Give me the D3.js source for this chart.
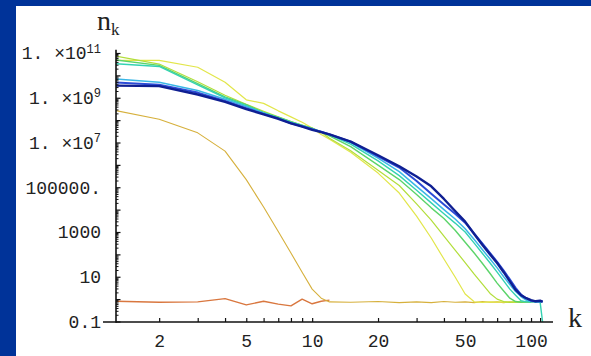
<!DOCTYPE html>
<html><head><meta charset="utf-8">
<script src="https://cdn.jsdelivr.net/npm/d3@7"></script>
<style>html,body{margin:0;padding:0;background:#003399;overflow:hidden}</style>
</head><body>
<svg id="chart" width="591" height="356"></svg>
<script>
// cluster size k (shared grid)
const kGrid = [1,2,3,4,5,6,7,8,9,10,11,12,15,20,25,30,35,40,45,50,55,60,65,70,75,80,85,90,95,100,105,110,113];

// n_k for each curve (null = not drawn)
const orangeSeries = [0.85,0.72,0.75,1.05,0.55,0.8,0.6,0.5,1.0,0.62,0.8,0.9,
  null,null,null,null,null,null,null,null,null,null,null,null,null,null,null,null,null,null,null,null,null];
const darkYellowSeries = [4.2e8,1.1e8,2.7e7,4.1e6,2.2e5,1.3e4,1.05e3,115,16,2.8,1.1,0.75,
  0.72,0.78,0.7,0.75,0.7,0.78,0.72,0.75,0.7,0.78,0.72,0.75,0.7,0.75,0.72,0.75,0.73,0.75,0.72,null,null];
const yellowSeries = [4.7e10,4.7e10,2.3e10,4.9e9,8.1e8,5.6e8,2.6e8,1.4e8,8.1e7,4.4e7,2.3e7,1.4e7,
  3.7e6,4.3e5,5.5e4,5.1e3,540,62,9.8,1.7,0.76,0.72,0.76,0.73,0.75,0.72,0.75,0.74,null,null,null,null,null];
const yellowGreenSeries = [1.1e11,3.2e10,5.2e9,1.3e9,5.1e8,2.5e8,1.4e8,8.7e7,6.0e7,4.4e7,2.9e7,1.55e7,
  4.3e6,5.8e5,1.2e5,1.8e4,3.4e3,660,155,43,13,4.7,1.8,1.0,0.78,0.72,0.76,0.74,0.75,null,null,null,null];
const greenSeries = [6.5e10,2.8e10,4.3e9,1.1e9,4.9e8,2.2e8,1.35e8,8.5e7,5.8e7,4.4e7,2.9e7,2.0e7,
  6.5e6,9.8e5,2.2e5,4.7e4,1.2e4,4.0e3,1.2e3,350,115,39,14,5.2,2.3,1.1,0.78,0.72,0.75,0.73,null,null,null];
const tealSeries = [3.8e10,2.5e10,3.8e9,1.0e9,4.4e8,2.1e8,1.3e8,8.1e7,5.8e7,4.2e7,3.0e7,2.2e7,
  8.4e6,1.5e6,3.3e5,7.4e4,2.0e4,6.6e3,2.5e3,1.0e3,320,110,41,16,6.5,2.8,1.5,0.85,0.75,0.78,0.74,0.76,0.09];
const cyanSeries = [8.1e9,4.9e9,2.1e9,8.5e8,4.0e8,2.1e8,1.2e8,7.6e7,5.5e7,3.9e7,3.0e7,2.2e7,
  1.0e7,2.0e6,5.0e5,1.1e5,3.1e4,1.0e4,3.8e3,1.4e3,460,160,62,25,10,4.5,2.2,1.3,0.9,0.78,0.75,0.77,0.76];
const blueSeries = [5.5e9,3.8e9,1.7e9,7.2e8,3.4e8,1.9e8,1.2e8,7.2e7,5.3e7,3.9e7,3.0e7,2.3e7,
  1.1e7,2.4e6,7.6e5,1.9e5,5.1e4,1.7e4,6.6e3,2.6e3,850,300,115,46,19,7.6,3.2,1.6,1.1,0.85,0.8,0.8,0.8];
const navySeries = [3.6e9,3.3e9,1.4e9,6.6e8,3.1e8,1.8e8,1.15e8,7.2e7,5.1e7,3.7e7,2.9e7,2.3e7,
  1.1e7,2.7e6,8.7e5,3.0e5,1.1e5,3.0e4,8.7e3,2.9e3,810,260,100,41,16,6.2,2.6,1.5,1.1,0.9,0.8,0.85,0.75];

// ticks
const xTicks = [2,3,4,5,6,7,8,9,10,20,30,40,50,60,70,80,90,100,110];
const xTickLabels = [2,5,10,20,50,100];
const yLabelTicks = [0.1,10,1000,1e5,1e7,1e9,1e11];
const yLabelBase = ["0.1","10","1000","100000.","1. \u00d710","1. \u00d710","1. \u00d710"];
const yLabelExp = ["","","","","7","9","11"];

const seriesList = [orangeSeries,darkYellowSeries,yellowSeries,yellowGreenSeries,greenSeries,tealSeries,cyanSeries,blueSeries,navySeries];
const seriesColors = ["#d9773f","#d6b03c","#e2e64a","#b2de3a","#5cd46a","#34d2b2","#3ab6e6","#2c4cd6","#0f1f92"];
const seriesWidths = [1.4,1.1,1.2,1.2,1.4,1.4,1.5,2,2.4];

const W = 591, H = 356;
const svg = d3.select("#chart");
svg.append("rect").attr("width",W).attr("height",H).attr("fill","#003399");
svg.append("rect").attr("x",16).attr("y",6).attr("width",W-16).attr("height",H-6).attr("fill","#ffffff");

const x = d3.scaleLog().domain([1.27,126]).range([116,553]);
const y = d3.scaleLog().domain([0.1,1e11]).range([321.5,53]);

svg.append("clipPath").attr("id","plotclip").append("rect")
  .attr("x",x(1.27)).attr("y",40).attr("width",x(126)-x(1.27)).attr("height",322-40);

const line = d3.line().defined(d => d.v != null).x(d => x(d.k)).y(d => y(d.v));
const plot = svg.append("g").attr("clip-path","url(#plotclip)");
seriesList.forEach((s,i) => {
  const pts = kGrid.map((k,j) => ({k:k, v:s[j]}));
  plot.append("path").attr("d",line(pts)).attr("fill","none")
    .attr("stroke",seriesColors[i]).attr("stroke-width",seriesWidths[i])
    .attr("stroke-linejoin","round");
});

const monoFont = "'Liberation Mono','DejaVu Sans Mono',monospace";

// x axis
const xAxisG = svg.append("g").attr("transform","translate(0,322)")
  .call(d3.axisBottom(x).tickValues(xTicks).tickSize(-4).tickSizeOuter(0).tickPadding(12)
    .tickFormat(d => xTickLabels.includes(d) ? String(d) : ""));
xAxisG.select(".domain").remove();
xAxisG.selectAll(".tick line").attr("stroke","#111").attr("stroke-width",1.2);
xAxisG.selectAll("text").attr("font-family",monoFont).attr("font-size",18).attr("fill","#222");
svg.append("line").attr("x1",103).attr("x2",x(126)).attr("y1",322).attr("y2",322)
  .attr("stroke","#111").attr("stroke-width",1.6);

// y axis minor ticks
const yMinor = [];
for (let e=-1; e<=11; e++) for (let m=2; m<=9; m++) { const v = m*Math.pow(10,e); if (v < 1.4e11) yMinor.push(v); }
const yMajor = d3.range(-1,12).map(e => Math.pow(10,e));
const yMinorG = svg.append("g").attr("transform","translate(116,0)")
  .call(d3.axisLeft(y).tickValues(yMinor).tickSize(-2.5).tickSizeOuter(0).tickFormat(""));
yMinorG.select(".domain").remove();
yMinorG.selectAll(".tick line").attr("stroke","#111").attr("stroke-width",1);
const yAxisG = svg.append("g").attr("transform","translate(116,0)")
  .call(d3.axisLeft(y).tickValues(yMajor).tickSize(-4.5).tickSizeOuter(0).tickPadding(15)
    .tickFormat(d => { const i = yLabelTicks.findIndex(t => Math.abs(Math.log10(t)-Math.log10(d))<1e-6); return i<0 ? "" : yLabelBase[i]; }));
yAxisG.select(".domain").remove();
yAxisG.selectAll(".tick line").attr("stroke","#111").attr("stroke-width",1.2);
yAxisG.selectAll("text").attr("font-family",monoFont).attr("font-size",18).attr("fill","#222")
  .attr("xml:space","preserve").style("white-space","pre")
  .each(function(d){
    const i = yLabelTicks.findIndex(t => Math.abs(Math.log10(t)-Math.log10(d))<1e-6);
    if (i >= 0 && yLabelExp[i]) {
      const t = d3.select(this);
      t.text(null);
      t.append("tspan").text(yLabelBase[i]);
      t.append("tspan").attr("font-size",12).attr("dy","-0.55em").text(yLabelExp[i]);
    }
  });
svg.append("line").attr("x1",116).attr("x2",116).attr("y1",y(1.4e11)).attr("y2",322.8)
  .attr("stroke","#111").attr("stroke-width",1.6);

// axis labels
const nLab = svg.append("text").attr("x",97).attr("y",30)
  .attr("font-family","'Liberation Serif','Times New Roman',serif").attr("font-size",28).attr("fill","#222");
nLab.append("tspan").text("n");
nLab.append("tspan").attr("font-size",17).attr("dy",5).text("k");
svg.append("text").attr("x",568).attr("y",327)
  .attr("font-family","'Liberation Serif','Times New Roman',serif").attr("font-size",28).attr("fill","#222").text("k");
</script>
</body></html>
